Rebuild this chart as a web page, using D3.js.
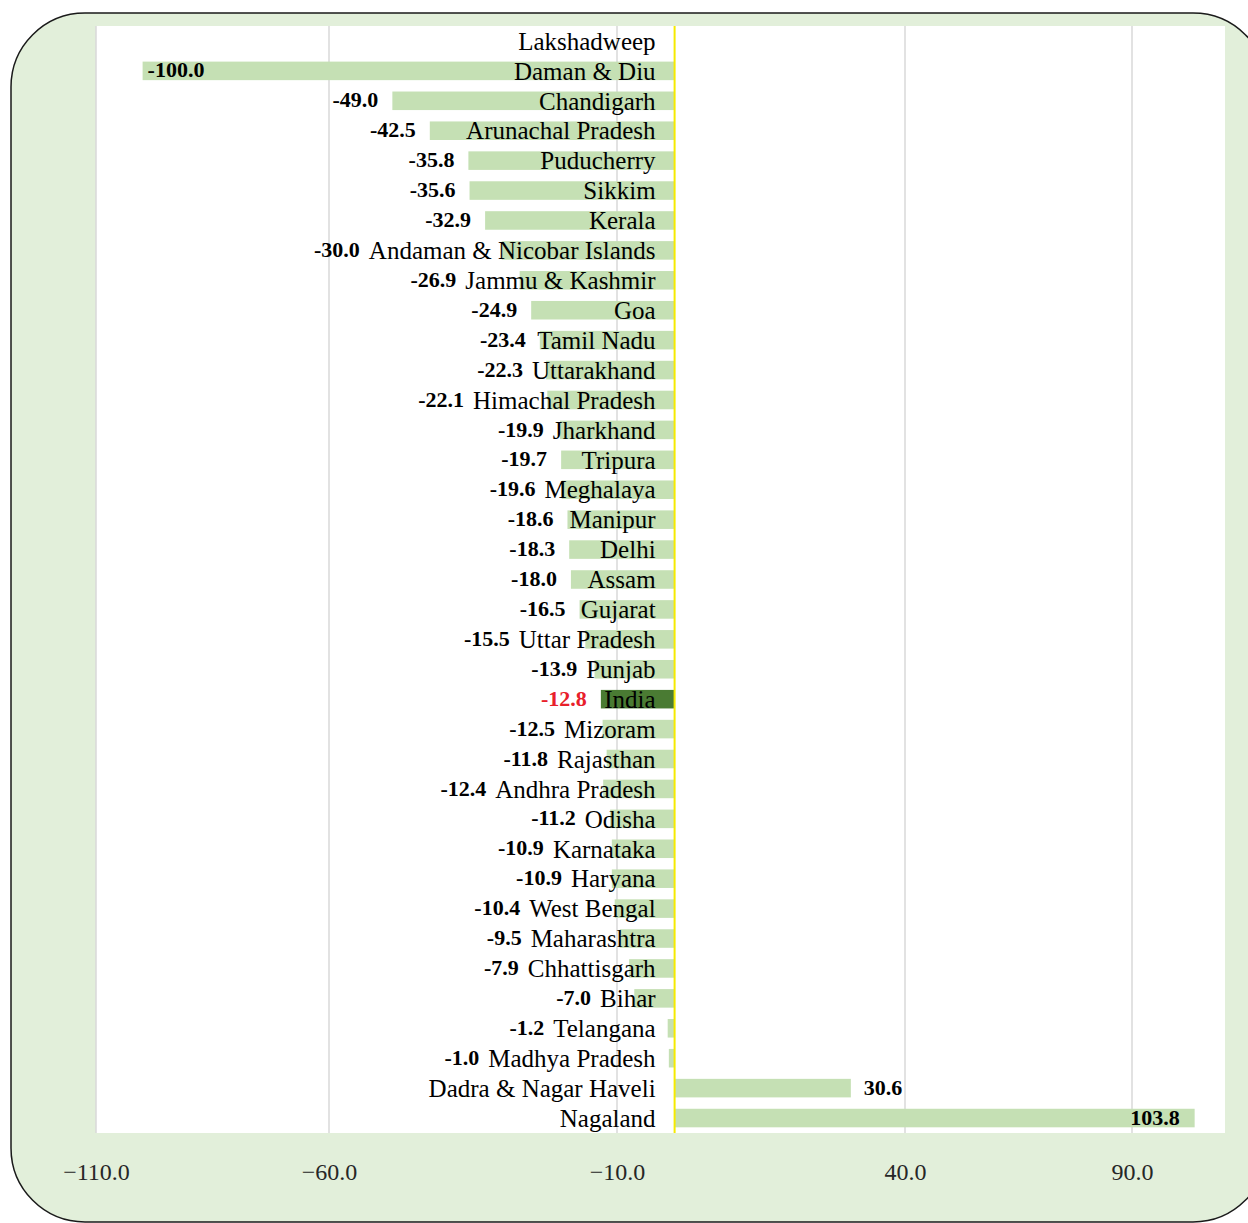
<!DOCTYPE html>
<html>
<head>
<meta charset="utf-8">
<script src="https://cdn.jsdelivr.net/npm/d3@7"></script>
<style>
  body { margin: 0; background: #fff; }
  svg text { font-family: 'Liberation Serif', 'Times New Roman', serif; }
</style>
</head>
<body>
<div id="chart-body"></div>
<script>
var states = ['Lakshadweep', 'Daman & Diu', 'Chandigarh', 'Arunachal Pradesh', 'Puducherry',
  'Sikkim', 'Kerala', 'Andaman & Nicobar Islands', 'Jammu & Kashmir', 'Goa', 'Tamil Nadu',
  'Uttarakhand', 'Himachal Pradesh', 'Jharkhand', 'Tripura', 'Meghalaya', 'Manipur', 'Delhi',
  'Assam', 'Gujarat', 'Uttar Pradesh', 'Punjab', 'India', 'Mizoram', 'Rajasthan',
  'Andhra Pradesh', 'Odisha', 'Karnataka', 'Haryana', 'West Bengal', 'Maharashtra',
  'Chhattisgarh', 'Bihar', 'Telangana', 'Madhya Pradesh', 'Dadra & Nagar Haveli', 'Nagaland'];

var changes = [null, -100.0, -49.0, -42.5, -35.8, -35.6, -32.9, -30.0, -26.9, -24.9, -23.4,
  -22.3, -22.1, -19.9, -19.7, -19.6, -18.6, -18.3, -18.0, -16.5, -15.5, -13.9, -12.8, -12.5,
  -11.8, -12.4, -11.2, -10.9, -10.9, -10.4, -9.5, -7.9, -7.0, -1.2, -1.0, 30.6, 103.8];

var tickValues = [-110, -60, -10, 40, 90];
var highlight = 'India';

var data = states.map(function (s, i) {return { name: s, value: changes[i] };});

var W = 1248, H = 1223;
var plot = { left: 96, right: 1225, top: 26, bottom: 1133 };

var svg = d3.select('#chart-body').append('svg').
attr('width', W).
attr('height', H);

// rounded frame
svg.append('rect').
attr('x', 11).
attr('y', 13).
attr('width', 1256).
attr('height', 1209).
attr('rx', 74).
attr('fill', '#e2efda').
attr('stroke', '#1a1a1a').
attr('stroke-width', 1.5);

svg.append('rect').
attr('x', plot.left).
attr('y', plot.top).
attr('width', plot.right - plot.left).
attr('height', plot.bottom - plot.top).
attr('fill', '#fff');

// the axis in the picture is not evenly spaced, so the scale follows its ticks
var x = d3.scaleLinear().
domain([-110, -60, 40, 90]).
range([plot.left, 329, 905, 1132]);

var y = d3.scaleBand().
domain(states).
range([plot.top, plot.bottom]).
paddingInner(0.38).
paddingOuter(0.19);

var x0 = x(0);

//gridlines
svg.append('g').
selectAll('line').
data(tickValues).
enter().
append('line').
attr('x1', function (d) {return x(d);}).
attr('x2', function (d) {return x(d);}).
attr('y1', plot.top).
attr('y2', plot.bottom).
attr('stroke', '#d9d9d9').
attr('stroke-width', 1.5);

// axis labels
var xAxis = d3.axisBottom(x).
tickValues(tickValues).
tickSize(0).
tickPadding(0).
tickFormat(d3.format('.1f'));

var axisG = svg.append('g').
attr('transform', 'translate(0, ' + (plot.bottom + 30) + ')').
call(xAxis);

axisG.select('.domain').remove();
axisG.selectAll('text').
style('font-family', "'Liberation Serif', serif").
style('font-size', '24px').
attr('fill', '#262626').
attr('dy', '0.7em');

//bars
var rows = data.filter(function (d) {return d.value !== null;});

svg.append('g').
selectAll('rect').
data(rows).
enter().
append('rect').
attr('x', function (d) {return Math.min(x(d.value), x0);}).
attr('y', function (d) {return y(d.name);}).
attr('width', function (d) {return Math.abs(x(d.value) - x0);}).
attr('height', y.bandwidth()).
attr('fill', function (d) {return d.name === highlight ? '#4a7b33' : '#c5e0b4';});

// zero line
svg.append('line').
attr('x1', x0).
attr('x2', x0).
attr('y1', plot.top).
attr('y2', plot.bottom).
attr('stroke', '#f5ea00').
attr('stroke-width', 2);

//category names sit at the zero line
var catRight = x0 - 19;
var cats = svg.append('g').
selectAll('text').
data(data).
enter().
append('text').
attr('x', catRight).
attr('y', function (d) {return y(d.name) + y.bandwidth() / 2;}).
attr('dy', '0.35em').
attr('text-anchor', 'end').
style('font-size', '25px').
attr('fill', '#000').
text(function (d) {return d.name;});

var catLeft = {};
cats.each(function (d) {catLeft[d.name] = catRight - this.getComputedTextLength();});

//value labels
svg.append('g').
selectAll('text').
data(rows).
enter().
append('text').
attr('y', function (d) {return y(d.name) + y.bandwidth() / 2;}).
attr('dy', '0.3em').
style('font-size', '22px').
style('font-weight', 'bold').
attr('fill', function (d) {return d.name === highlight ? '#e8202a' : '#000';}).
text(function (d) {return d.value.toFixed(1);}).
each(function (d) {
  var t = d3.select(this);
  var w = this.getComputedTextLength();
  var end = x(d.value);
  if (d.value < 0) {
    var right = Math.min(end - 14, catLeft[d.name] - 9);
    if (right - w < plot.left) {
      t.attr('x', end + 5).attr('text-anchor', 'start');
    } else {
      t.attr('x', right).attr('text-anchor', 'end');
    }
  } else {
    if (end + 13 + w > plot.right) {
      t.attr('x', end - 15).attr('text-anchor', 'end');
    } else {
      t.attr('x', end + 13).attr('text-anchor', 'start');
    }
  }
});
</script>
</body>
</html>
